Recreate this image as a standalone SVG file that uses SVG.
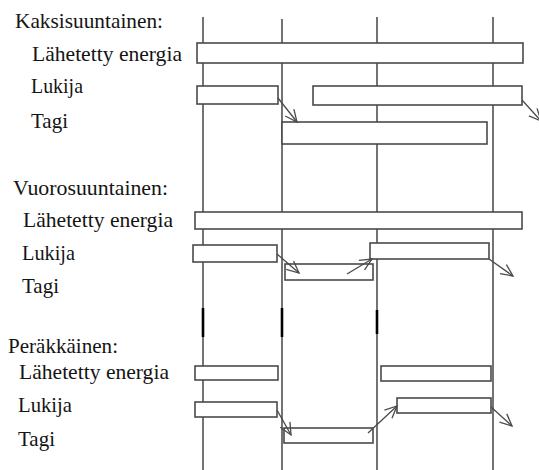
<svg xmlns="http://www.w3.org/2000/svg" width="539" height="470" viewBox="0 0 539 470">
  <style>
    .lbl { font-family: "Liberation Serif", "Times New Roman", serif; font-size: 21px; fill: #141414; }
    .bar { fill: #ffffff; stroke: #4a4a4a; stroke-width: 1.6; }
    .time { stroke: #000000; stroke-width: 1.1; fill: none; }
    .tick { stroke: #000000; stroke-width: 2.6; }
    .flow { stroke: #4a4a4a; stroke-width: 1.3; fill: none; marker-end: url(#vhead); }
  </style>
  <defs>
    <marker id="vhead" markerUnits="userSpaceOnUse" markerWidth="16" markerHeight="14" refX="13" refY="7" orient="auto">
      <path d="M1,1.5 L13,7 L1,12.5" fill="none" stroke="#4a4a4a" stroke-width="1.3"/>
    </marker>
  </defs>
  <rect width="539" height="470" fill="#ffffff"/>

  <!-- time slot dividers -->
  <g id="timeline">
    <line class="time" x1="203" y1="17" x2="203" y2="470"/>
    <line class="time" x1="282" y1="19" x2="282" y2="470"/>
    <line class="time" x1="377" y1="17" x2="377" y2="470"/>
    <line class="time" x1="493" y1="17" x2="493" y2="470"/>
    <line class="tick" x1="203" y1="308" x2="203" y2="337"/>
    <line class="tick" x1="282" y1="308" x2="282" y2="337"/>
    <line class="tick" x1="377" y1="310" x2="377" y2="334"/>
  </g>

  <!-- full duplex -->
  <g id="kaksisuuntainen">
    <text class="lbl" x="15" y="28" textLength="148" lengthAdjust="spacingAndGlyphs">Kaksisuuntainen:</text>
    <text class="lbl" x="32" y="61" textLength="150" lengthAdjust="spacingAndGlyphs">Lähetetty energia</text>
    <text class="lbl" x="31" y="93" textLength="52" lengthAdjust="spacingAndGlyphs">Lukija</text>
    <text class="lbl" x="31" y="128" textLength="37" lengthAdjust="spacingAndGlyphs">Tagi</text>
  </g>
  <g id="k-energia"><rect class="bar" x="197" y="43" width="326" height="20"/></g>
  <g id="k-lukija-1"><rect class="bar" x="197" y="86" width="81" height="18"/></g>
  <g id="k-lukija-2"><rect class="bar" x="313" y="86" width="209" height="19"/></g>
  <g id="k-tagi"><rect class="bar" x="282" y="122" width="205" height="22"/></g>

  <!-- half duplex -->
  <g id="vuorosuuntainen">
    <text class="lbl" x="13" y="195" textLength="155" lengthAdjust="spacingAndGlyphs">Vuorosuuntainen:</text>
    <text class="lbl" x="23" y="227" textLength="150" lengthAdjust="spacingAndGlyphs">Lähetetty energia</text>
    <text class="lbl" x="22" y="260" textLength="53" lengthAdjust="spacingAndGlyphs">Lukija</text>
    <text class="lbl" x="22" y="293" textLength="37" lengthAdjust="spacingAndGlyphs">Tagi</text>
  </g>
  <g id="v-energia"><rect class="bar" x="195" y="212" width="327" height="17"/></g>
  <g id="v-lukija-1"><rect class="bar" x="193" y="245" width="84" height="17"/></g>
  <g id="v-tagi"><rect class="bar" x="285" y="264" width="88" height="16"/></g>
  <g id="v-lukija-2"><rect class="bar" x="370" y="243" width="119" height="16"/></g>

  <!-- sequential -->
  <g id="perakkainen">
    <text class="lbl" x="8" y="353" textLength="110" lengthAdjust="spacingAndGlyphs">Peräkkäinen:</text>
    <text class="lbl" x="19" y="379" textLength="150" lengthAdjust="spacingAndGlyphs">Lähetetty energia</text>
    <text class="lbl" x="18" y="412" textLength="54" lengthAdjust="spacingAndGlyphs">Lukija</text>
    <text class="lbl" x="18" y="446" textLength="37" lengthAdjust="spacingAndGlyphs">Tagi</text>
  </g>
  <g id="p-energia-1"><rect class="bar" x="195" y="366" width="83" height="14"/></g>
  <g id="p-energia-2"><rect class="bar" x="381" y="366" width="110" height="15"/></g>
  <g id="p-lukija-1"><rect class="bar" x="195" y="402" width="82" height="15"/></g>
  <g id="p-lukija-2"><rect class="bar" x="397" y="398" width="94" height="15"/></g>
  <g id="p-tagi"><rect class="bar" x="284" y="428" width="89" height="15"/></g>

  <!-- signal hand-overs -->
  <g id="connectors">
    <line class="flow" x1="278" y1="98" x2="297" y2="122"/>
    <line class="flow" x1="522" y1="100" x2="541" y2="121"/>
    <line class="flow" x1="277" y1="254" x2="299" y2="273"/>
    <line class="flow" x1="347" y1="274" x2="372" y2="259"/>
    <line class="flow" x1="489" y1="259" x2="513" y2="276"/>
    <line class="flow" x1="277" y1="410" x2="291" y2="435"/>
    <line class="flow" x1="368" y1="433" x2="397" y2="406"/>
    <line class="flow" x1="491" y1="407" x2="512" y2="426"/>
  </g>
</svg>
